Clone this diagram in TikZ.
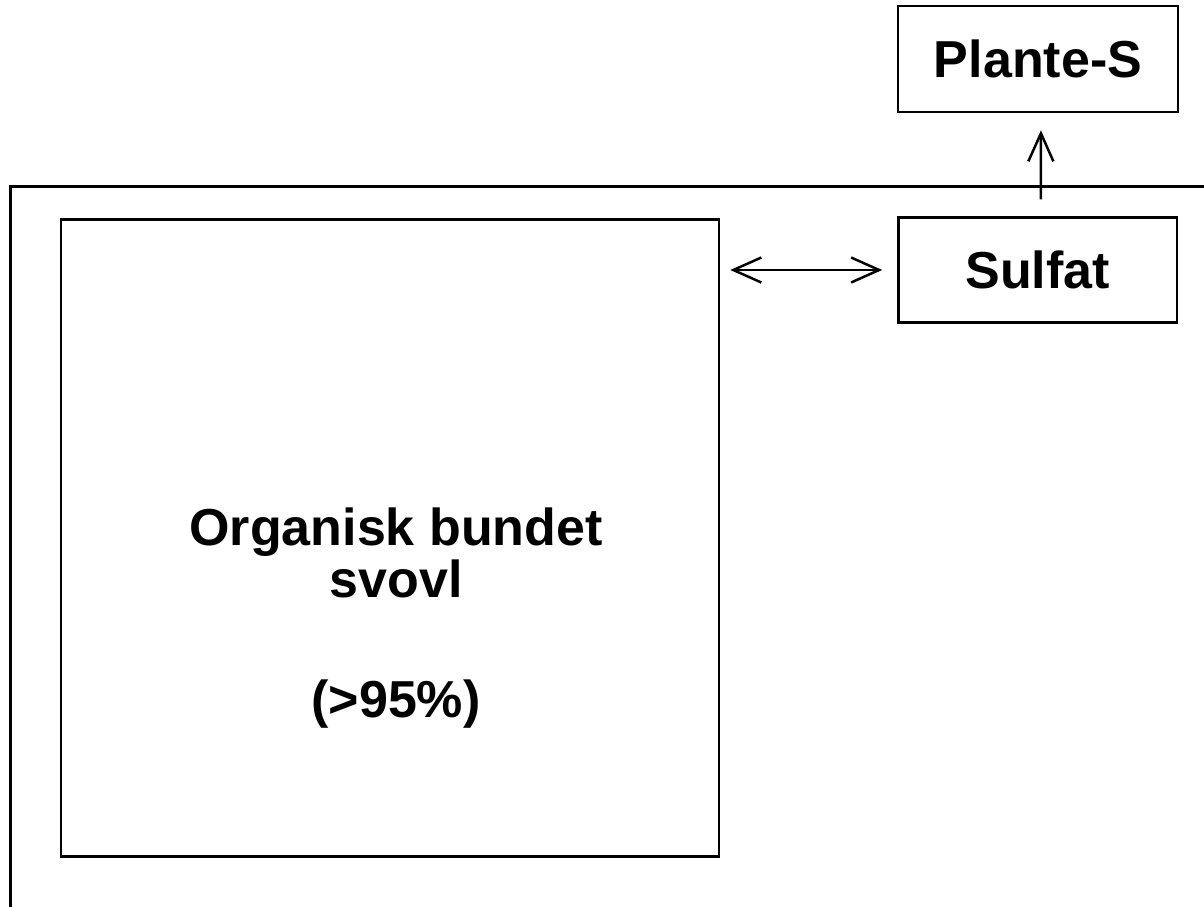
\documentclass[tikz,border=0pt]{standalone}
\usepackage{fontspec}
\setmainfont{Liberation Sans}
\usetikzlibrary{arrows.meta}

\begin{document}
\begin{tikzpicture}[x={(1pt,0)}, y={(0,-1pt)}, line width=2.5pt,
    >={Straight Barb[length=28pt, width=25pt, line width=2.5pt]},
    label text/.style={inner sep=0pt, font=\fontsize{52}{52}\selectfont\bfseries},
    pool/.style={draw, label text},
    flow/.style={line width=2.5pt, ->}]
          \useasboundingbox (0,0) rectangle (1204,907);
          % soil frame
          \draw (10.5,907) -- (10.5,186.5) -- (1204,186.5);
          \node [pool, minimum width=658pt, minimum height=637pt] (organic) at (390,538) {};
          \node [label text, align=center] (orgtext) at ([shift={(6,80)}]organic.center) {Organisk bundet\\ svovl\\[68pt] (>95\%)};
          \node [pool, minimum width=278.5pt, minimum height=105pt] (sulfat) at (1037.7,270) {Sulfat};
          \node [pool, minimum width=280pt, minimum height=106pt] (plante) at (1038,59) {Plante-S};
          \draw [flow, <->, shorten <=10pt, shorten >=15pt] (organic.east |- sulfat.west) -- (sulfat.west);
          \draw [flow, shorten <=17pt, shorten >=17pt] ([xshift=3pt]sulfat.north) -- ([xshift=3pt]plante.south);
        \end{tikzpicture}
\end{document}
